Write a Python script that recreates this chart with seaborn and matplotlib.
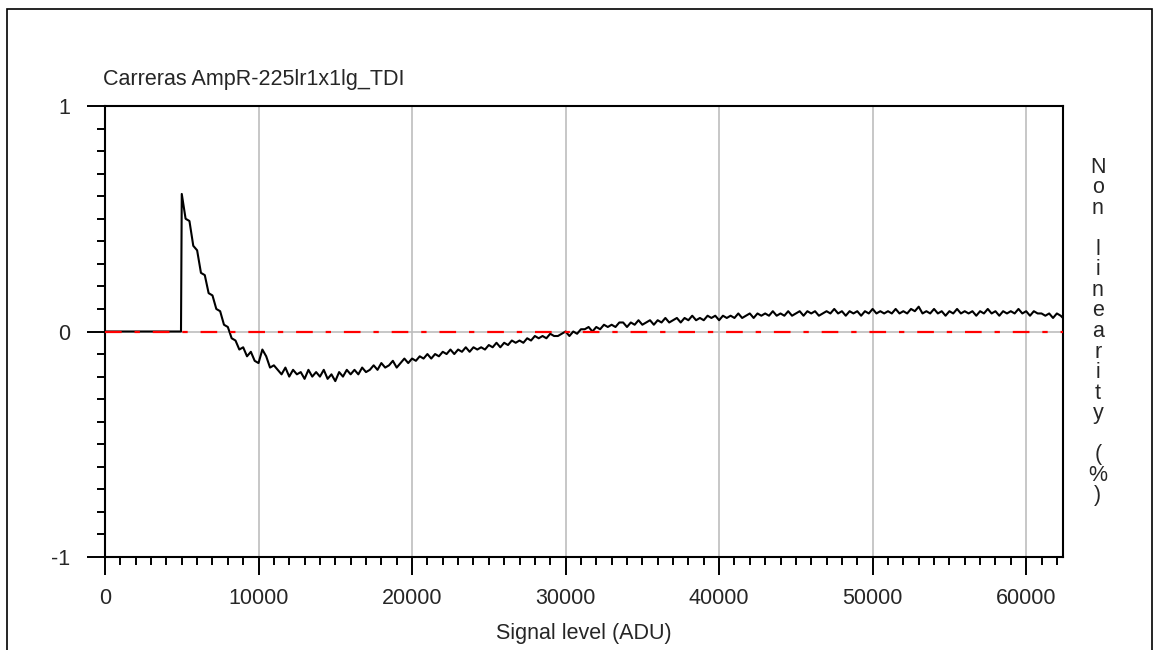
import matplotlib
matplotlib.use("Agg")
import matplotlib.pyplot as plt
from matplotlib.patches import Rectangle
from matplotlib.ticker import MultipleLocator
import seaborn as sns
import pandas as pd

# ---------- DATA ----------
title = "Carreras AmpR-225lr1x1lg_TDI"
x_label = "Signal level (ADU)"
y_label = "Non linearity (%)"

# flat part before the signal starts
flat_adu = [0, 4950]
flat_nl = [0.0, 0.0]

# steep decay, one reading every 250 ADU
decay_adu = list(range(5000, 11001, 250))
decay_nl = [0.61, 0.50, 0.49, 0.38, 0.36, 0.26, 0.25, 0.17, 0.16, 0.10,
            0.09, 0.03, 0.02, -0.03, -0.04, -0.08, -0.07, -0.11, -0.09, -0.13,
            -0.14, -0.08, -0.11, -0.16, -0.15]

# slow part, one reading every 250 ADU up to the end of the range
slow_adu = list(range(11250, 62251, 250)) + [62400]
slow_nl = [
    -0.17, -0.19, -0.16, -0.20, -0.17, -0.19, -0.18, -0.21, -0.17, -0.20,
    -0.18, -0.20, -0.17, -0.21, -0.19, -0.22, -0.18, -0.20, -0.17, -0.19,
    -0.17, -0.19, -0.16, -0.18, -0.17, -0.15, -0.17, -0.14, -0.16, -0.15,
    -0.13, -0.16, -0.14, -0.12, -0.14, -0.12, -0.13, -0.11, -0.12, -0.10,
    -0.12, -0.10, -0.11, -0.09, -0.10, -0.08, -0.10, -0.08, -0.09, -0.07,
    -0.09, -0.07, -0.08, -0.07, -0.08, -0.06, -0.07, -0.05, -0.07, -0.05,
    -0.06, -0.04, -0.05, -0.04, -0.05, -0.03, -0.04, -0.02, -0.03, -0.02,
    -0.03, -0.01, -0.02, -0.02, -0.01, 0.00, -0.02, 0.00, -0.01, 0.01,
    0.01, 0.02, 0.00, 0.02, 0.01, 0.03, 0.02, 0.03, 0.02, 0.04,
    0.04, 0.02, 0.04, 0.03, 0.05, 0.03, 0.04, 0.05, 0.03, 0.05,
    0.04, 0.06, 0.04, 0.05, 0.06, 0.04, 0.06, 0.05, 0.07, 0.05,
    0.06, 0.05, 0.07, 0.06, 0.07, 0.05, 0.07, 0.06, 0.07, 0.06,
    0.08, 0.06, 0.07, 0.08, 0.06, 0.08, 0.07, 0.08, 0.07, 0.09,
    0.07, 0.08, 0.07, 0.09, 0.07, 0.08, 0.09, 0.07, 0.09, 0.08,
    0.09, 0.07, 0.08, 0.09, 0.08, 0.10, 0.08, 0.09, 0.07, 0.09,
    0.08, 0.09, 0.07, 0.09, 0.08, 0.10, 0.08, 0.09, 0.08, 0.09,
    0.08, 0.10, 0.08, 0.09, 0.08, 0.10, 0.09, 0.11, 0.08, 0.09,
    0.08, 0.10, 0.08, 0.09, 0.07, 0.09, 0.08, 0.10, 0.08, 0.09,
    0.08, 0.09, 0.07, 0.09, 0.08, 0.10, 0.08, 0.09, 0.07, 0.09,
    0.08, 0.09, 0.08, 0.10, 0.08, 0.09, 0.07, 0.09, 0.08, 0.08,
    0.07, 0.08, 0.06, 0.08, 0.07,
    0.06,
]

x_ticks = [0, 10000, 20000, 30000, 40000, 50000, 60000]
y_ticks = [-1, 0, 1]
x_max = 62400

# ---------- PLOT ----------
sns.set_style("white")
plt.rcParams["font.family"] = ["Liberation Sans", "DejaVu Sans"]
plt.rcParams["axes.unicode_minus"] = False
fs = 15.5

df = pd.DataFrame({
    "adu": flat_adu + decay_adu + slow_adu,
    "nl": flat_nl + decay_nl + slow_nl,
})

fig = plt.figure(figsize=(11.56, 6.5), dpi=100)
ax = fig.add_axes([105 / 1156, 93 / 650, 958 / 1156, 451 / 650])

# grey grid only at the inner major ticks and at zero
for gx in x_ticks[1:]:
    ax.axvline(gx, color="#bdbdbd", lw=1.2, zorder=0.5)
ax.axhline(0, color="#bdbdbd", lw=1.2, zorder=0.5)

sns.lineplot(data=df, x="adu", y="nl", ax=ax, color="black", lw=1.5,
             sort=False, estimator=None, zorder=2)
ax.plot([0, x_max], [0, 0], color="red", lw=1.6,
        dashes=(7.5, 5.8, 2.4, 5.8), zorder=3)

ax.set_xlim(0, x_max)
ax.set_ylim(-1, 1)
ax.set_xticks(x_ticks)
ax.set_yticks(y_ticks)
ax.xaxis.set_minor_locator(MultipleLocator(1000))
ax.yaxis.set_minor_locator(MultipleLocator(0.1))
ax.tick_params(axis="both", which="major", direction="out", length=13,
               width=1.4, color="black", labelsize=fs)
ax.tick_params(axis="both", which="minor", direction="out", length=6,
               width=1.4, color="black")
ax.tick_params(axis="y", which="major", pad=12)
ax.tick_params(axis="x", which="major", pad=9)
ax.tick_params(bottom=True, left=True, which="both")
for sp in ax.spines.values():
    sp.set_color("black")
    sp.set_linewidth(1.5)
ax.set_xlabel("")
ax.set_ylabel("")

fig.text(103 / 1156, 1 - 85 / 650, title, ha="left", va="baseline", fontsize=fs)
fig.text(584 / 1156, 1 - 634 / 650, x_label, ha="center", va="center", fontsize=fs)
ax.text(1.0365, 0.5, "\n".join(list(y_label)), transform=ax.transAxes,
        ha="center", va="center", fontsize=fs, linespacing=0.97)

# window frame around the whole picture
fig.patches.append(Rectangle((7 / 1156, -0.02), 1145 / 1156, 1.02 - 9 / 650,
                             transform=fig.transFigure, fill=False,
                             edgecolor="black", lw=1.2))

fig.savefig("out.png", dpi=100)
